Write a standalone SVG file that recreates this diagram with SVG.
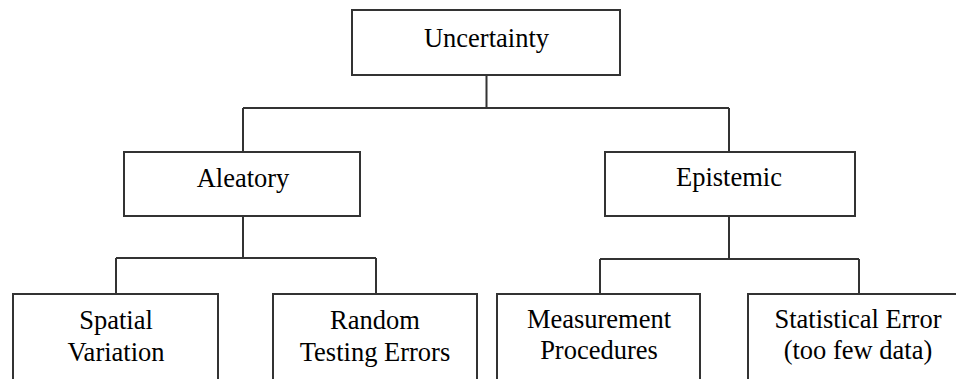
<svg xmlns="http://www.w3.org/2000/svg" width="956" height="379" viewBox="0 0 956 379">
<style>
.box{fill:#fff;stroke:#333;stroke-width:2}
.ln{fill:none;stroke:#333;stroke-width:2}
text{font-family:"Liberation Serif","Times New Roman",serif;font-size:26.5px;fill:#000;text-anchor:middle}
</style>
<rect width="956" height="379" fill="#fff"/>
<g id="connectors">
<path class="ln" d="M486.5,75 V108 M243,108 H729 M243,108 V152 M729,108 V152"/>
<path class="ln" d="M243,216 V258 M116,258 H376 M116,258 V294 M376,258 V294"/>
<path class="ln" d="M729,216 V259 M600,259 H859 M600,259 V294 M859,259 V294"/>
</g>
<g id="uncertainty"><rect class="box" x="352" y="10" width="268" height="65"/><text x="486.5" y="47">Uncertainty</text></g>
<g id="aleatory"><rect class="box" x="124" y="152" width="236" height="64"/><text x="243" y="187">Aleatory</text></g>
<g id="epistemic"><rect class="box" x="605" y="152" width="250" height="64"/><text x="729" y="186">Epistemic</text></g>
<g id="spatial"><rect class="box" x="13" y="294" width="205" height="120"/><text x="116" y="329">Spatial</text><text x="116" y="361">Variation</text></g>
<g id="random"><rect class="box" x="273" y="294" width="204" height="120"/><text x="375" y="329">Random</text><text x="375" y="361">Testing Errors</text></g>
<g id="measurement"><rect class="box" x="497" y="294" width="203" height="120"/><text x="599" y="328">Measurement</text><text x="599" y="359">Procedures</text></g>
<g id="statistical"><rect class="box" x="748" y="294" width="240" height="120"/><text x="858" y="328">Statistical Error</text><text x="858" y="359">(too few data)</text></g>
</svg>
